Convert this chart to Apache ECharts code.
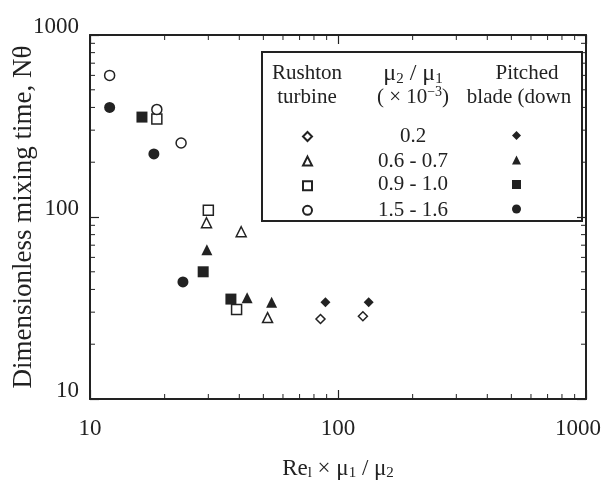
<!DOCTYPE html>
<html>
<head>
<meta charset="utf-8">
<script src="https://cdn.jsdelivr.net/npm/echarts@6/dist/echarts.min.js"></script>
<style>
  html, body { margin: 0; padding: 0; background: #fff; }
  #chart { width: 602px; height: 492px; }
</style>
</head>
<body>
<div id="chart"></div>
<script>
// Rushton turbine (open symbols), [Re*mu1/mu2, N*theta]
var rushton02   = [[85, 27.5], [126, 28.5]];
var rushton0607 = [[29.5, 93], [40.7, 83], [52, 28]];
var rushton0910 = [[18.6, 345], [30, 109], [39, 31]];
var rushton1516 = [[12, 600], [18.6, 390], [23.3, 255]];
// Pitched blade (down) (filled symbols)
var pitched02   = [[89, 34], [133, 34]];
var pitched0607 = [[29.6, 66], [43, 36], [54, 34]];
var pitched0910 = [[16.2, 354], [28.6, 50], [37, 35.4]];
var pitched1516 = [[12, 400], [18.1, 222], [23.7, 44]];

var ratioLabels = ['0.2', '0.6 - 0.7', '0.9 - 1.0', '1.5 - 1.6'];
var symbols = ['diamond', 'triangle', 'rect', 'circle'];
var minorTicks = [20, 30, 40, 50, 60, 70, 80, 90, 200, 300, 400, 500, 600, 700, 800, 900];

var ink = '#222';
var font = '"Liberation Serif", "DejaVu Serif", serif';

var rushtonData = [rushton02, rushton0607, rushton0910, rushton1516];
var pitchedData = [pitched02, pitched0607, pitched0910, pitched1516];

var series = [];
var rushtonNames = [], pitchedNames = [];
rushtonData.forEach(function (d, i) {
  var name = 'Rushton ' + ratioLabels[i];
  rushtonNames.push(name);
  series.push({
    name: name, type: 'scatter', data: d, symbol: symbols[i],
    symbolSize: i == 0 ? 9 : 10,
    itemStyle: { color: '#fff', borderColor: ink, borderWidth: 1.5, opacity: 1 }
  });
});
pitchedData.forEach(function (d, i) {
  var name = 'Pitched ' + ratioLabels[i];
  pitchedNames.push(name);
  series.push({
    name: name, type: 'scatter', data: d, symbol: symbols[i],
    symbolSize: i == 0 ? 10 : 11,
    itemStyle: { color: ink, opacity: 1 }
  });
});

// minor log ticks on all four sides
series.push({
  type: 'custom', silent: true, xAxisIndex: 0, yAxisIndex: 0,
  data: minorTicks.map(function (v) { return [v, 100]; }),
  renderItem: function (params, api) {
    var cs = params.coordSys;
    var px = api.coord([api.value(0), 100])[0];
    var b = cs.y + cs.height;
    return { type: 'group', children: [
      { type: 'line', shape: { x1: px, y1: b, x2: px, y2: b - 5 }, style: { stroke: ink, lineWidth: 1 } },
      { type: 'line', shape: { x1: px, y1: cs.y, x2: px, y2: cs.y + 5 }, style: { stroke: ink, lineWidth: 1 } }
    ]};
  }
});
series.push({
  type: 'custom', silent: true, xAxisIndex: 0, yAxisIndex: 0,
  data: minorTicks.map(function (v) { return [100, v]; }),
  renderItem: function (params, api) {
    var cs = params.coordSys;
    var py = api.coord([100, api.value(1)])[1];
    var r = cs.x + cs.width;
    return { type: 'group', children: [
      { type: 'line', shape: { x1: cs.x, y1: py, x2: cs.x + 5, y2: py }, style: { stroke: ink, lineWidth: 1 } },
      { type: 'line', shape: { x1: r, y1: py, x2: r - 5, y2: py }, style: { stroke: ink, lineWidth: 1 } }
    ]};
  }
});

function axisBase(pos, showLabel) {
  return {
    type: 'log', logBase: 10, min: 10, max: 1000, position: pos,
    nameMoveOverlap: false,
    axisLine: { show: true, onZero: false, lineStyle: { color: ink, width: 2 } },
    axisTick: { show: true, inside: true, length: 9, lineStyle: { color: ink, width: 1.2 } },
    splitLine: { show: false },
    axisLabel: {
      show: showLabel, color: ink, fontFamily: font, fontSize: 23,
      formatter: function (v) { return String(Math.round(v)); }
    }
  };
}

var xBottom = axisBase('bottom', true);
xBottom.axisLabel.margin = 18;
// last label sits a little left of its tick, as in the original
xBottom.axisLabel.formatter = function (v) {
  var s = String(Math.round(v));
  return v >= 999 ? '{r|' + s + '}' : s;
};
xBottom.axisLabel.rich = { r: { fontFamily: font, fontSize: 23, color: ink, padding: [0, 16, 0, 0] } };
xBottom.name = 'Re{s|l} × μ{s|1} / μ{s|2}';
xBottom.nameLocation = 'middle';
xBottom.nameGap = 57;
xBottom.nameTextStyle = {
  color: ink, fontFamily: font, fontSize: 23,
  rich: { s: { fontFamily: font, fontSize: 15, color: ink, padding: [10, 0, 0, 0] } }
};
var xTop = axisBase('top', false);

var yLeft = axisBase('left', true);
yLeft.axisLabel.margin = 11;
yLeft.axisLabel.verticalAlign = 'bottom';
yLeft.axisLabel.lineHeight = 16;
yLeft.name = 'Dimensionless mixing time, Nθ';
yLeft.nameLocation = 'middle';
yLeft.nameGap = 53;
yLeft.nameTextStyle = { color: ink, fontFamily: font, fontSize: 27 };
var yRight = axisBase('right', false);

function txt(x, y, text, extra) {
  var style = { x: x, y: y, text: text, fill: ink, font: '21px ' + font, align: 'center', verticalAlign: 'middle' };
  if (extra) { for (var k in extra) style[k] = extra[k]; }
  return { type: 'text', z: 10, style: style };
}

var graphics = [
  { type: 'rect', z: 1, shape: { x: 262, y: 52, width: 320, height: 169 },
    style: { fill: 'transparent', stroke: ink, lineWidth: 2 } },
  txt(307, 73, 'Rushton'),
  txt(307, 97, 'turbine'),
  txt(413, 74, '{a|μ}{s|2}{a| / μ}{s|1}', { rich: {
    a: { fontFamily: font, fontSize: 24, fill: ink },
    s: { fontFamily: font, fontSize: 15, fill: ink, padding: [10, 0, 0, 0] }
  } }),
  txt(413, 97, '( × 10{p|−3})', { rich: {
    p: { fontFamily: font, fontSize: 14, fill: ink, padding: [0, 0, 10, 0] }
  } }),
  txt(527, 73, 'Pitched'),
  txt(519, 97, 'blade (down')
];
var rowY = [136, 161, 184, 210];
ratioLabels.forEach(function (t, i) { graphics.push(txt(413, rowY[i], t)); });

function iconLegend(names, left, size, gap) {
  return {
    data: names, orient: 'vertical', left: left, top: 131, padding: 0,
    itemWidth: size, itemHeight: size, itemGap: gap,
    formatter: ' ', selectedMode: false,
    textStyle: { fontSize: 1 }
  };
}

var chart = echarts.init(document.getElementById('chart'));
chart.setOption({
  animation: false,
  backgroundColor: '#fff',
  grid: { left: 90, right: 16, top: 35, bottom: 93, containLabel: false, outerBoundsMode: 'none' },
  xAxis: [xBottom, xTop],
  yAxis: [yLeft, yRight],
  legend: [
    iconLegend(rushtonNames, 302, 9, 13.6),
    iconLegend(pitchedNames, 512, 9, 15.5)
  ],
  graphic: graphics,
  series: series
});
</script>
</body>
</html>
